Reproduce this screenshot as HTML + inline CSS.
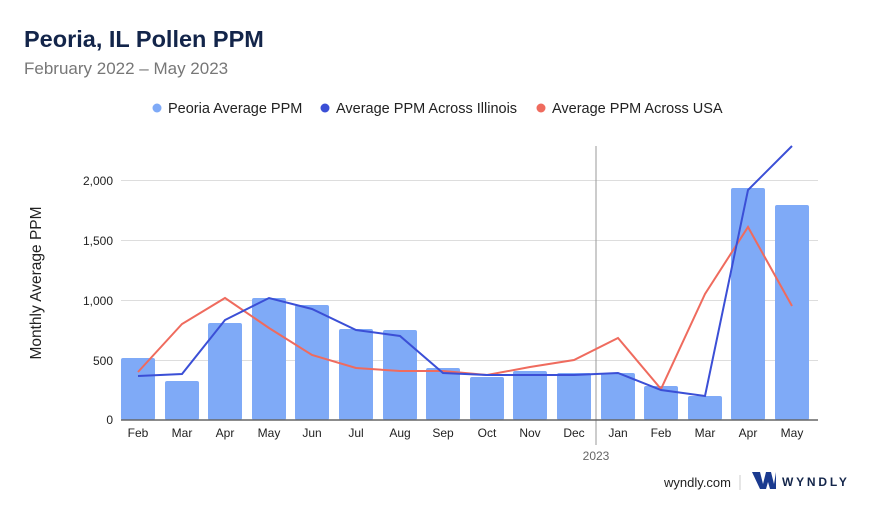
<!DOCTYPE html>
<html><head><style>
body{margin:0;background:#fff;font-family:"Liberation Sans",sans-serif;}
</style></head><body>
<svg width="880" height="510" xmlns="http://www.w3.org/2000/svg" font-family="Liberation Sans, sans-serif">
<text x="24" y="47" font-size="23.5" font-weight="bold" fill="#13254a">Peoria, IL Pollen PPM</text>
<text x="24" y="74" font-size="17" fill="#777">February 2022 – May 2023</text>
<circle cx="157" cy="108" r="4.5" fill="#7faaf7"/><text x="168" y="113" font-size="14.5" fill="#222">Peoria Average PPM</text>
<circle cx="325" cy="108" r="4.5" fill="#3b4fd6"/><text x="336" y="113" font-size="14.5" fill="#222">Average PPM Across Illinois</text>
<circle cx="541" cy="108" r="4.5" fill="#ef6b5e"/><text x="552" y="113" font-size="14.5" fill="#222">Average PPM Across USA</text>
<g stroke="#ddd" stroke-width="1">
<line x1="121" x2="818" y1="180.5" y2="180.5"/><line x1="121" x2="818" y1="240.5" y2="240.5"/>
<line x1="121" x2="818" y1="300.5" y2="300.5"/><line x1="121" x2="818" y1="360.5" y2="360.5"/>
</g>
<g font-size="12" fill="#222" text-anchor="end">
<text x="113" y="185">2,000</text><text x="113" y="245">1,500</text><text x="113" y="305">1,000</text><text x="113" y="365">500</text><text x="113" y="424">0</text>
</g>
<text transform="translate(41,283) rotate(-90)" font-size="15.5" fill="#222" text-anchor="middle">Monthly Average PPM</text>
<g fill="#7faaf7">
<rect x="121" y="358" width="34" height="62" rx="2"/>
<rect x="165" y="381" width="34" height="39" rx="2"/>
<rect x="208" y="323" width="34" height="97" rx="2"/>
<rect x="252" y="298" width="34" height="122" rx="2"/>
<rect x="295" y="305" width="34" height="115" rx="2"/>
<rect x="339" y="329" width="34" height="91" rx="2"/>
<rect x="383" y="330" width="34" height="90" rx="2"/>
<rect x="426" y="368" width="34" height="52" rx="2"/>
<rect x="470" y="377" width="34" height="43" rx="2"/>
<rect x="513" y="371" width="34" height="49" rx="2"/>
<rect x="557" y="373" width="34" height="47" rx="2"/>
<rect x="601" y="373" width="34" height="47" rx="2"/>
<rect x="644" y="386" width="34" height="34" rx="2"/>
<rect x="688" y="396" width="34" height="24" rx="2"/>
<rect x="731" y="188" width="34" height="232" rx="2"/>
<rect x="775" y="205" width="34" height="215" rx="2"/>
</g>
<line x1="596" x2="596" y1="146" y2="445" stroke="#999" stroke-width="1"/>
<line x1="121" x2="818" y1="420" y2="420" stroke="#666" stroke-width="1.5"/>
<polyline fill="none" stroke="#ef6b5e" stroke-width="2" points="138,372 182,324 225,298 269,328 312,355 356,368 400,371 443,371 487,375 530,367 574,360 618,338 661,389 705,294 748,227 792,306"/>
<polyline fill="none" stroke="#3b4fd6" stroke-width="2" points="138,376 182,374 225,320 269,298 312,309 356,330 400,336 443,373 487,375 530,375 574,375 618,373 661,390 705,396 748,190 792,146"/>
<g font-size="12" fill="#222" text-anchor="middle">
<text x="138" y="437">Feb</text><text x="182" y="437">Mar</text><text x="225" y="437">Apr</text><text x="269" y="437">May</text>
<text x="312" y="437">Jun</text><text x="356" y="437">Jul</text><text x="400" y="437">Aug</text><text x="443" y="437">Sep</text>
<text x="487" y="437">Oct</text><text x="530" y="437">Nov</text><text x="574" y="437">Dec</text><text x="618" y="437">Jan</text>
<text x="661" y="437">Feb</text><text x="705" y="437">Mar</text><text x="748" y="437">Apr</text><text x="792" y="437">May</text>
</g>
<text x="596" y="460" font-size="12" fill="#666" text-anchor="middle">2023</text>
<text x="731" y="487" font-size="13" fill="#222" text-anchor="end">wyndly.com</text>
<line x1="740" x2="740" y1="475" y2="490" stroke="#ccc"/>
<path d="M752,472 L760,472 L763,484 L766,472 L771,472 L774,484 L776,472 L776,489 L770,489 L768,482 L766,489 L760,489 Z" fill="#1a3a8f"/>
<text x="782" y="486" font-size="12" font-weight="bold" fill="#13254a" letter-spacing="2.8">WYNDLY</text>
</svg>
</body></html>
